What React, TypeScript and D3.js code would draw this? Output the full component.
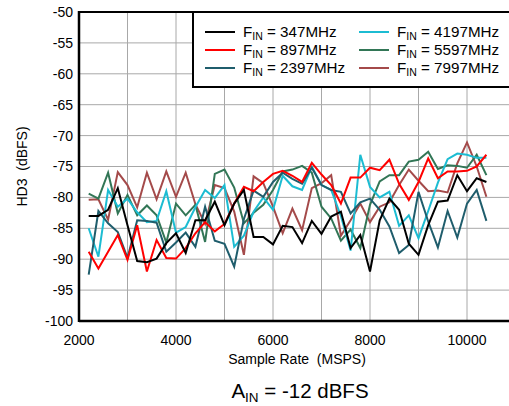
import React from "react";
import * as d3 from "d3";

const sampleRates: number[] = d3.range(2200, 10401, 200);

const fin347: number[] = [-83.0,-83.0,-82.0,-78.5,-84.5,-90.3,-90.5,-89.9,-87.4,-85.8,-89.0,
  -83.7,-83.7,-80.7,-84.5,-81.0,-78.8,-86.4,-86.4,-87.6,-84.6,-84.8,-87.4,-83.8,-85.9,-83.1,
  -82.3,-88.2,-86.1,-92.0,-83.7,-80.2,-82.0,-87.5,-89.3,-84.5,-80.7,-80.5,-76.4,-79.0,-76.9,-77.5];
const fin897: number[] = [-88.8,-91.5,-88.8,-86.1,-90.1,-84.5,-92.0,-86.9,-89.8,-89.9,-88.2,
  -85.8,-84.0,-85.5,-84.3,-81.0,-78.3,-79.0,-77.5,-76.2,-75.7,-76.5,-77.5,-74.4,-76.3,-78.0,
  -81.0,-76.8,-76.8,-75.2,-75.6,-73.9,-77.8,-80.4,-77.5,-73.7,-76.9,-75.8,-75.8,-75.7,-75.0,-73.1];
const fin2397: number[] = [-92.5,-82.2,-84.2,-85.6,-89.8,-83.7,-83.8,-84.1,-88.8,-87.3,-85.7,
  -88.0,-81.5,-87.0,-87.5,-91.2,-83.5,-78.9,-79.9,-77.5,-76.0,-77.0,-77.8,-75.2,-78.0,-78.8,
  -79.1,-82.6,-80.8,-80.2,-82.0,-84.7,-89.0,-87.7,-79.1,-83.9,-88.1,-82.2,-86.5,-81.0,-78.8,-83.8];
const fin4197: number[] = [-85.0,-89.6,-78.8,-81.5,-80.2,-82.4,-84.0,-83.8,-79.0,-85.7,-84.8,
  -81.6,-78.8,-80.1,-78.0,-88.0,-86.2,-82.3,-80.0,-82.0,-76.5,-78.2,-78.8,-75.0,-78.0,-78.8,
  -83.0,-88.6,-73.1,-78.3,-80.0,-79.1,-84.6,-82.9,-86.6,-82.2,-77.6,-73.8,-72.9,-73.1,-73.6,-73.6];
const fin5597: number[] = [-79.4,-80.2,-76.0,-82.6,-79.6,-82.9,-81.3,-82.9,-87.3,-81.0,-82.9,
  -81.2,-87.2,-76.2,-75.5,-78.4,-84.2,-82.5,-81.2,-78.8,-75.8,-75.5,-74.9,-76.0,-81.5,-83.4,
  -87.0,-85.2,-88.2,-81.2,-77.4,-76.4,-76.4,-74.2,-73.9,-72.6,-75.4,-74.8,-74.9,-75.2,-73.1,-76.4];
const fin7997: number[] = [-80.4,-80.3,-83.6,-75.9,-78.0,-81.6,-76.0,-80.3,-75.8,-79.9,-76.0,
  -81.1,-84.3,-78.0,-78.5,-82.3,-89.3,-76.6,-77.7,-81.5,-85.8,-81.8,-85.3,-78.5,-77.7,-76.4,
  -86.2,-83.7,-81.0,-84.0,-81.5,-80.8,-78.0,-75.5,-77.3,-79.0,-78.9,-79.2,-74.5,-71.1,-75.0,-79.9];

const seriesNames: string[] = ["347MHz", "897MHz", "2397MHz", "4197MHz", "5597MHz", "7997MHz"];
const seriesValues: number[][] = [fin347, fin897, fin2397, fin4197, fin5597, fin7997];
const seriesColors: string[] = ["#000000", "#ff0000", "#1f5d6c", "#1cbcd2", "#327656", "#a44a4a"];

const xTicks: number[] = [2000, 4000, 6000, 8000, 10000];
const yTicks: number[] = [-50, -55, -60, -65, -70, -75, -80, -85, -90, -95, -100];

const FONT = "'Liberation Sans', Arial, sans-serif";

export default function App() {
  const W = 509, H = 406;
  const left = 79, top = 12, bottom = 321;
  const x = d3.scaleLinear().domain([2000, 11000]).range([left, left + 9 * 48.5]);
  const y = d3.scaleLinear().domain([-100, -50]).range([bottom, top]);
  const line = d3.line<[number, number]>().x(d => x(d[0])).y(d => y(d[1]));
  const gridX = d3.range(3000, 11001, 1000);
  const gridY = d3.range(-95, -50, 5);

  const order = [5, 4, 3, 2, 1, 0];

  return (
    <svg width={W} height={H} style={{ position: "absolute", left: 0, top: 0, background: "#fff" }}
      fontFamily={FONT}>
      <rect x={0} y={0} width={W} height={H} fill="#fff" />
      {gridX.map(v => (
        <line key={"gx" + v} x1={x(v)} x2={x(v)} y1={top} y2={bottom} stroke="#a8a8a8" strokeWidth={1} />
      ))}
      {gridY.map(v => (
        <line key={"gy" + v} x1={left} x2={W} y1={y(v)} y2={y(v)} stroke="#a8a8a8" strokeWidth={1} />
      ))}
      {order.map(i => (
        <path key={"s" + i}
          d={line(sampleRates.map((s, j) => [s, seriesValues[i][j]] as [number, number])) || ""}
          fill="none" stroke={seriesColors[i]} strokeWidth={2} strokeLinejoin="miter" />
      ))}
      <line x1={left} x2={W} y1={top} y2={top} stroke="#000" strokeWidth={2} />
      <line x1={left} x2={W} y1={bottom} y2={bottom} stroke="#000" strokeWidth={2.5} />
      <line x1={left} x2={left} y1={top - 1} y2={bottom + 1} stroke="#000" strokeWidth={2.5} />

      {yTicks.map(v => (
        <text key={"yt" + v} x={73} y={y(v)} dy="0.35em" textAnchor="end" fontSize={14} fill="#000">{v}</text>
      ))}
      {xTicks.map(v => (
        <text key={"xt" + v} x={x(v)} y={345} textAnchor="middle" fontSize={14} fill="#000">{v}</text>
      ))}
      <text x={297} y={364} textAnchor="middle" fontSize={14} fill="#000" xmlSpace="preserve" style={{ whiteSpace: "pre" }}>{"Sample Rate  (MSPS)"}</text>
      <text transform={`translate(27,${(top + bottom) / 2}) rotate(-90)`} textAnchor="middle" fontSize={14} fill="#000" xmlSpace="preserve" style={{ whiteSpace: "pre" }}>{"HD3  (dBFS)"}</text>
      <text x={300} y={398} textAnchor="middle" fontSize={20.5} fill="#000">
        A<tspan fontSize={13.5} dy={4}>IN</tspan><tspan dy={-4}> = -12 dBFS</tspan>
      </text>

      <rect x={193} y={12} width={340} height={75} fill="#fff" stroke="#000" strokeWidth={2} />
      {seriesNames.map((n, i) => {
        const col = Math.floor(i / 3);
        const row = i % 3;
        const lx = col === 0 ? 205 : 359;
        const ly = 32 + row * 18;
        return (
          <g key={"lg" + i}>
            <line x1={lx} x2={lx + 30} y1={ly} y2={ly} stroke={seriesColors[i]} strokeWidth={2} />
            <text x={lx + 38} y={ly + 5} fontSize={15.2} fill="#000">
              F<tspan fontSize={10.5} dy={3}>IN</tspan><tspan dy={-3}>{" = " + n}</tspan>
            </text>
          </g>
        );
      })}
    </svg>
  );
}
